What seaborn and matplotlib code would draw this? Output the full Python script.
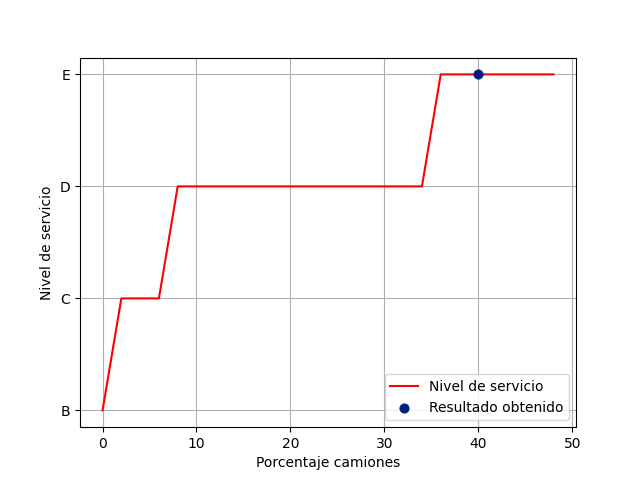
import matplotlib
matplotlib.use("Agg")
import matplotlib.pyplot as plt
import seaborn as sns

niveles = ["B", "C", "D", "E"]
porcentaje = [0, 2, 4, 6, 8, 10, 12, 14, 16, 18, 20, 22, 24, 26, 28, 30, 32, 34,
              36, 38, 40, 42, 44, 46, 48]
nivel = ["B", "C", "C", "C", "D", "D", "D", "D", "D", "D", "D", "D", "D", "D", "D",
         "D", "D", "D", "E", "E", "E", "E", "E", "E", "E"]
resultado_x = [40]
resultado_y = ["E"]

idx = {n: i for i, n in enumerate(niveles)}

fig, ax = plt.subplots(figsize=(6.4, 4.8), dpi=100)
sns.lineplot(x=porcentaje, y=[idx[n] for n in nivel], color="red", ax=ax,
             label="Nivel de servicio", zorder=2)
sns.scatterplot(x=resultado_x, y=[idx[n] for n in resultado_y], color="#001f7f",
                s=45, edgecolor=None, ax=ax, label="Resultado obtenido", zorder=3)
ax.set_yticks(range(len(niveles)))
ax.set_yticklabels(niveles)
ax.set_xticks([0, 10, 20, 30, 40, 50])
ax.grid(True, color="#b0b0b0", zorder=0)
ax.set_axisbelow(True)
ax.set_xlabel("Porcentaje camiones")
ax.set_ylabel("Nivel de servicio")
ax.legend(loc="lower right")
fig.savefig("out.png")
